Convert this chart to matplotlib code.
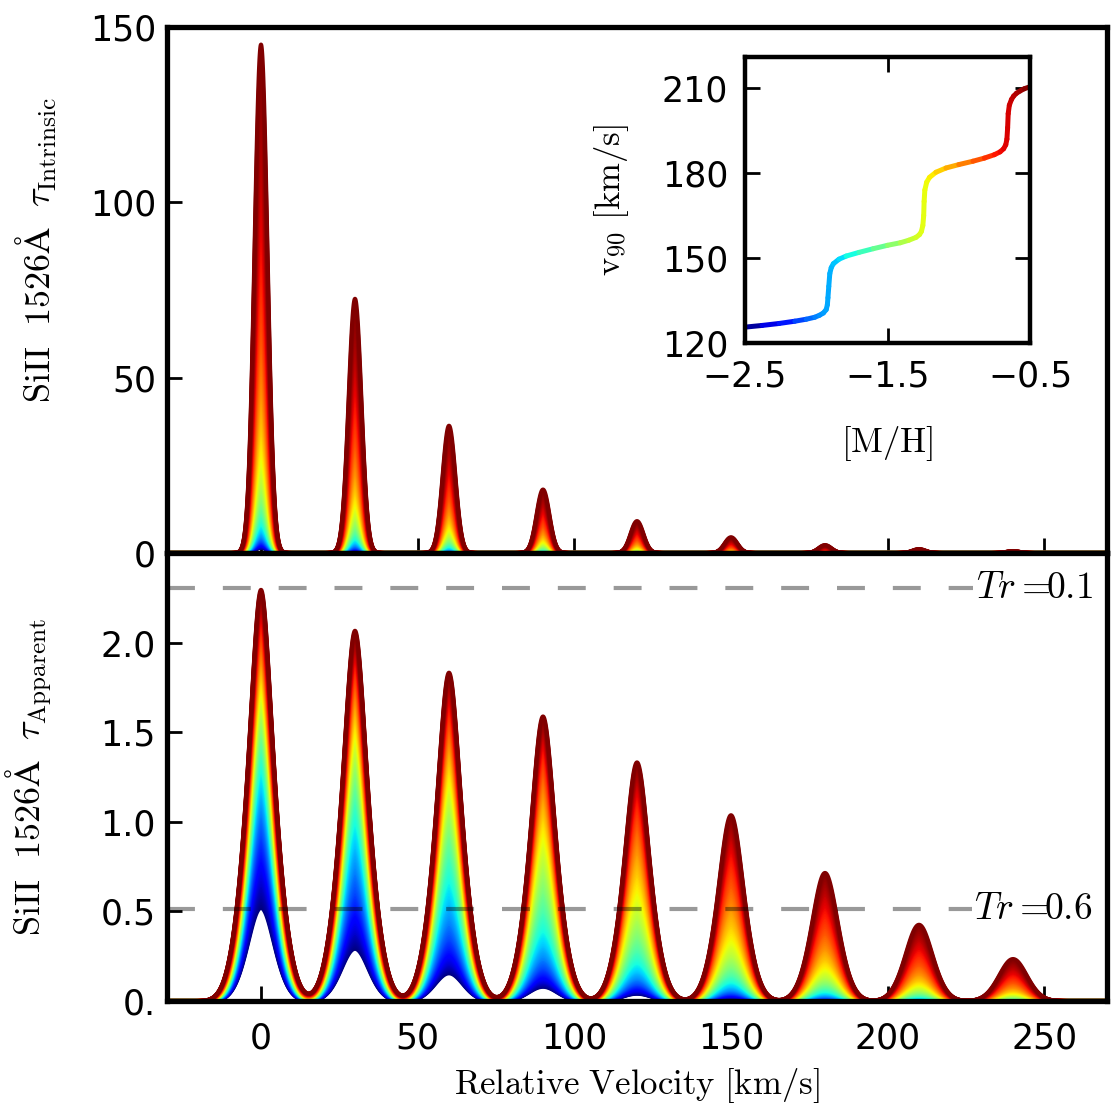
import numpy as np
import matplotlib
matplotlib.use("Agg")
import matplotlib.pyplot as plt
from matplotlib.collections import LineCollection

# ---- data ----
comp_velocity = [0, 30, 60, 90, 120, 150, 180, 210, 240]          # km/s
comp_tau_peak = [145, 72.5, 36.3, 18.1, 9.1, 4.5, 2.27, 1.13, 0.57]  # intrinsic peak at [M/H] = -0.5
comp_sigma = 2.05       # km/s, intrinsic Gaussian width
lsf_sigma = 4.1         # km/s, instrumental Gaussian width
lsf_cut = 12.3          # km/s, instrumental profile truncation
mh_min, mh_max, n_mh = -2.5, -0.5, 121
tr_levels = [0.1, 0.6]
tr_labels = [r'$Tr=\!\!0.1$', r'$Tr=\!\!0.6$']

inset_mh = [-2.50, -2.38, -2.26, -2.15, -2.07, -2.01, -1.977, -1.950, -1.930, -1.922,
            -1.918, -1.912, -1.905, -1.895, -1.88, -1.84, -1.79, -1.70, -1.60, -1.50,
            -1.41, -1.35, -1.30, -1.275, -1.262, -1.252, -1.246, -1.243, -1.238, -1.225,
            -1.205, -1.16, -1.09, -1.00, -0.90, -0.82, -0.75, -0.71, -0.685, -0.67,
            -0.662, -0.657, -0.653, -0.645, -0.63, -0.615, -0.595, -0.57, -0.54, -0.50]
inset_v90 = [125.6, 126.2, 126.9, 127.7, 128.4, 129.1, 129.8, 130.6, 131.8, 133.5,
             136.0, 140.0, 144.5, 146.6, 148.0, 149.6, 150.7, 152.0, 153.3, 154.5,
             155.4, 156.3, 157.3, 158.3, 159.4, 161.5, 165.0, 170.0, 174.0, 176.8,
             178.5, 180.3, 181.8, 183.0, 184.2, 185.3, 186.5, 187.5, 188.6, 190.0,
             192.0, 196.0, 201.0, 204.0, 206.0, 207.2, 208.2, 209.0, 209.8, 210.5]

plt.rcParams['mathtext.fontset'] = 'cm'
plt.rcParams['font.size'] = 25

# ---- profiles built from the read parameters ----
dv = 0.05
v = np.arange(-30, 270 + dv / 2, dv)
template = np.zeros_like(v)
for vc, tp in zip(comp_velocity, comp_tau_peak):
    template += tp * np.exp(-0.5 * ((v - vc) / comp_sigma) ** 2)
kv = np.arange(-lsf_cut, lsf_cut + dv / 2, dv)
kern = np.exp(-0.5 * (kv / lsf_sigma) ** 2)
kern /= kern.sum()


def apparent(tau):
    deficit = np.convolve(1 - np.exp(-tau), kern, mode='same')
    return -np.log(np.clip(1 - deficit, 1e-12, None))


mh_vals = np.linspace(mh_min, mh_max, n_mh)   # high metallicity drawn last
cmap = plt.get_cmap('jet')
norm = plt.Normalize(mh_min, mh_max)
intr, appr, cols = [], [], []
for mh in mh_vals:
    tau = template * 10 ** (mh - mh_max)
    intr.append(np.column_stack([v, tau]))
    appr.append(np.column_stack([v, apparent(tau)]))
    cols.append(cmap(norm(mh)))

fig = plt.figure(figsize=(11.12, 11.13), dpi=100)
L, W = 167 / 1112, 940 / 1112
ax1 = fig.add_axes([L, 1 - 553 / 1113, W, 526 / 1113])
ax2 = fig.add_axes([L, 1 - 1001 / 1113, W, 448 / 1113], sharex=ax1)

lw = 2.9
ax1.add_collection(LineCollection(intr, colors=cols, linewidths=lw, capstyle='round', joinstyle='round'))
ax2.add_collection(LineCollection(appr, colors=cols, linewidths=lw, capstyle='round', joinstyle='round'))

ax1.set_xlim(-30, 270)
ax1.set_ylim(0, 150)
ax2.set_ylim(0, 2.5)
ax1.set_yticks([0, 50, 100, 150])
ax2.set_yticks([0, 0.5, 1.0, 1.5, 2.0])
ax2.set_yticklabels(['0.', '0.5', '1.0', '1.5', '2.0'])
ax2.set_xticks([0, 50, 100, 150, 200, 250])
ax1.tick_params(labelbottom=False)

for ax in (ax1, ax2):
    for s in ax.spines.values():
        s.set_linewidth(3.8)
        s.set_zorder(10)
    ax.tick_params(direction='in', length=11, width=2, top=False, right=False, zorder=11)
    ax.tick_params(axis='y', pad=8)
    ax.tick_params(axis='x', pad=15)

for lev, lab in zip(tr_levels, tr_labels):
    y = -np.log(lev)
    ax2.axhline(y, color='k', alpha=0.4, lw=3, linestyle=(0, (6.7, 6.7)), zorder=5)
    ax2.text(0.985, y, lab, transform=ax2.get_yaxis_transform(), ha='right', va='center',
             fontsize=27, zorder=6,
             bbox=dict(facecolor='white', edgecolor='none', pad=2))

ax1.set_ylabel(r'$\mathrm{SiII\ \ 1526\AA}\ \ \tau_{\mathrm{Intrinsic}}$', fontsize=26)
ax2.set_ylabel(r'$\mathrm{SiII\ \ 1526\AA}\ \ \tau_{\mathrm{Apparent}}$', fontsize=26)
ax2.set_xlabel(r'$\mathrm{Relative\ Velocity\ [km/s]}$', fontsize=25)
ax1.yaxis.set_label_coords(-0.115, 0.575)
ax2.yaxis.set_label_coords(-0.12, 0.5)
ax2.xaxis.set_label_coords(0.5, -0.145)

# ---- inset ----
axi = fig.add_axes([745 / 1112, 1 - 343 / 1113, 285 / 1112, 286 / 1113])
pts = np.column_stack([inset_mh, inset_v90])
segs = np.stack([pts[:-1], pts[1:]], axis=1)
mids = 0.5 * (np.array(inset_mh[:-1]) + np.array(inset_mh[1:]))
axi.add_collection(LineCollection(segs, colors=cmap(norm(mids)), linewidths=3.6, capstyle='round'))
axi.set_xlim(-2.5, -0.5)
axi.set_ylim(120, 221)
axi.set_xticks([-2.5, -1.5, -0.5])
axi.set_yticks([120, 150, 180, 210])
for s in axi.spines.values():
    s.set_linewidth(3.2)
axi.tick_params(direction='in', length=11, width=2, top=True, right=True)
axi.tick_params(axis='y', pad=12)
axi.tick_params(axis='x', pad=12)
axi.set_xlabel(r'$\mathrm{[M/H]}$', fontsize=25, labelpad=22)
axi.set_ylabel(r'$\mathrm{v}_{90}\ \mathrm{[km/s]}$', fontsize=25, labelpad=22)

fig.savefig("out.png", dpi=100)
